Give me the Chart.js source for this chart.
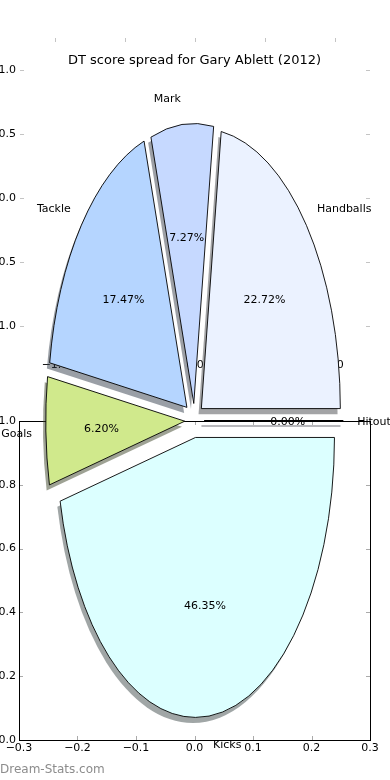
<!DOCTYPE html>
<html>
<head>
<meta charset="utf-8">
<title>DT score spread for Gary Ablett (2012)</title>
<style>
    body { margin: 0; background: #fff; }
    #wrap { position: relative; width: 390px; height: 780px; overflow: hidden; }
    #wrap canvas { position: absolute; left: 0; top: 0; }
    .brand { position: absolute; left: 0; top: 762px; font: 12px "DejaVu Sans", sans-serif; line-height: 14px; color: #8c8c8c; }
</style>
</head>
<body>
<div id="wrap">
    <canvas id="lowerAxes" width="390" height="780"></canvas>
    <canvas id="upperAxes" width="390" height="780"></canvas>
    <canvas id="pieChart" width="390" height="780"></canvas>
    <div class="brand">Dream-Stats.com</div>
</div>

<script src="https://cdn.jsdelivr.net/npm/chart.js"></script>
<script>
    // slices, clockwise from 3 o'clock (matplotlib draws them the other way round)
    var categories = ['Hitout', 'Kicks', 'Goals', 'Tackle', 'Mark', 'Handballs'];
    var scores = [0.00, 46.35, 6.20, 17.47, 7.27, 22.72];
    var sliceColors = ['#e4e4ff', '#dcffff', '#d0e98c', '#b5d5ff', '#c6d9ff', '#ebf2ff'];
    var explode = [0.07, 0.061, 0.07, 0.072, 0.061, 0.065];   // fraction of radius

    // the two stray axes behind the pie
    var lowerXTicks = [-0.3, -0.2, -0.1, 0, 0.1, 0.2, 0.3];
    var lowerXLabels = ['\u22120.3', '\u22120.2', '\u22120.1', '0.0', '0.1', '0.2', '0.3'];
    var lowerYTicks = [0, 0.2, 0.4, 0.6, 0.8, 1.0];
    var lowerYLabels = ['0.0', '0.2', '0.4', '0.6', '0.8', '1.0'];
    var upperTicks = [-1, -0.5, 0, 0.5, 1];
    var upperLabels = ['\u22121.0', '\u22120.5', '0.0', '0.5', '1.0'];

    var STRETCH = 2.014;   // the pie is an ellipse, taller than wide
    var tickFont = { family: 'DejaVu Sans', size: 11 };

    var innerTicks = {
        id: 'innerTicks',
        afterDraw: function (chart, args, opts) {
            var a = chart.chartArea, ctx = chart.ctx, sx = chart.scales.x, sy = chart.scales.y, len = 4;
            ctx.save();
            ctx.strokeStyle = opts.color;
            ctx.lineWidth = 1;
            ctx.beginPath();
            sx.ticks.forEach(function (t) {
                var p = Math.round(sx.getPixelForValue(t.value)) + 0.5;
                ctx.moveTo(p, a.top); ctx.lineTo(p, a.top + len);
                ctx.moveTo(p, a.bottom); ctx.lineTo(p, a.bottom - len);
            });
            sy.ticks.forEach(function (t) {
                var p = Math.round(sy.getPixelForValue(t.value)) + 0.5;
                ctx.moveTo(a.left, p); ctx.lineTo(a.left + len, p);
                ctx.moveTo(a.right, p); ctx.lineTo(a.right - len, p);
            });
            ctx.stroke();
            if (opts.frame) {
                ctx.strokeStyle = '#000';
                ctx.strokeRect(a.left + 0.5, a.top + 0.5, a.right - a.left, a.bottom - a.top);
            }
            ctx.restore();
        }
    };

    function makeAxes(id, xRange, xTicks, xLabels, yRange, yTicks, yLabels, box, tickColor, frame) {
        return new Chart(document.getElementById(id), {
            type: 'scatter',
            data: { datasets: [{ data: [] }] },
            options: {
                responsive: false,
                animation: false,
                events: [],
                layout: { padding: { left: 0, top: box.top, right: 390 - box.right, bottom: 0 } },
                scales: {
                    x: {
                        type: 'linear', min: xRange[0], max: xRange[1],
                        afterBuildTicks: function (s) { s.ticks = xTicks.map(function (v) { return { value: v }; }); },
                        afterFit: function (s) { s.height = 780 - box.bottom; },
                        grid: { display: false, drawTicks: false },
                        border: { display: false },
                        ticks: {
                            color: '#000', font: tickFont, padding: box.xPad, maxRotation: 0, autoSkip: false,
                            callback: function (v, i) { return xLabels[i]; }
                        }
                    },
                    y: {
                        type: 'linear', min: yRange[0], max: yRange[1],
                        afterBuildTicks: function (s) { s.ticks = yTicks.map(function (v) { return { value: v }; }); },
                        afterFit: function (s) { s.width = box.left; },
                        grid: { display: false, drawTicks: false },
                        border: { display: false },
                        ticks: {
                            color: '#000', font: tickFont, padding: box.yPad, autoSkip: false,
                            callback: function (v, i) { return yLabels[i]; }
                        }
                    }
                },
                plugins: {
                    legend: { display: false },
                    tooltip: { enabled: false },
                    innerTicks: { color: tickColor, frame: frame }
                }
            },
            plugins: [innerTicks]
        });
    }

    makeAxes('lowerAxes', [-0.3, 0.3], lowerXTicks, lowerXLabels, [0, 1], lowerYTicks, lowerYLabels,
        { left: 19, top: 421, right: 370, bottom: 740, xPad: 2, yPad: 3 }, '#aaa', true);
    makeAxes('upperAxes', [-1.25, 1.25], upperTicks, upperLabels, [-1.25, 1.25], upperTicks, upperLabels,
        { left: 20, top: 38, right: 370, bottom: 358, xPad: 1, yPad: 4 }, '#c4c4c4', false);

    function shade(hex) {
        var n = parseInt(hex.slice(1), 16);
        return 'rgba(' + Math.round((n >> 16 & 255) * 0.3) + ',' + Math.round((n >> 8 & 255) * 0.3) + ',' +
            Math.round((n & 255) * 0.3) + ',0.5)';
    }

    function wedgePath(ctx, arc, dx, dy) {
        ctx.beginPath();
        ctx.moveTo(arc.x + dx, arc.y + dy);
        ctx.arc(arc.x + dx, arc.y + dy, arc.outerRadius, arc.startAngle, arc.endAngle);
        ctx.closePath();
    }

    // exploded, stretched wedges with matplotlib style drop shadows
    var explodedPie = {
        id: 'explodedPie',
        beforeDatasetDraw: function (chart, args) {
            var ctx = chart.ctx, arcs = args.meta.data;
            var cx = arcs[0].x, cy = arcs[0].y, base = ctx.getTransform();
            ctx.save();
            ctx.translate(cx, cy); ctx.scale(1, STRETCH); ctx.translate(-cx, -cy);

            arcs.forEach(function (arc, i) {
                var m = (arc.startAngle + arc.endAngle) / 2, d = explode[i] * arc.outerRadius, s = 0.02 * arc.outerRadius;
                var col = shade(sliceColors[i]);
                wedgePath(ctx, arc, Math.cos(m) * d - s, Math.sin(m) * d + s);
                if (arc.circumference > 0) {
                    ctx.fillStyle = col;
                    ctx.fill();
                } else {
                    ctx.save(); ctx.setTransform(base);
                    ctx.strokeStyle = col; ctx.lineWidth = 1.5; ctx.stroke();
                    ctx.restore();
                }
            });

            arcs.forEach(function (arc, i) {
                var m = (arc.startAngle + arc.endAngle) / 2, d = explode[i] * arc.outerRadius;
                ctx.save();
                ctx.translate(Math.cos(m) * d, Math.sin(m) * d);
                arc.draw(ctx);
                wedgePath(ctx, arc, 0, 0);
                ctx.setTransform(base);
                ctx.strokeStyle = '#000';
                ctx.lineWidth = 0.9;
                ctx.stroke();
                ctx.restore();
            });
            ctx.restore();
            return false;
        }
    };

    var pieLabels = {
        id: 'pieLabels',
        afterDatasetsDraw: function (chart) {
            var ctx = chart.ctx, arcs = chart.getDatasetMeta(0).data;
            var total = scores.reduce(function (a, b) { return a + b; }, 0);
            ctx.save();
            ctx.font = '11px "DejaVu Sans"';
            ctx.fillStyle = '#000';
            ctx.textBaseline = 'middle';
            arcs.forEach(function (arc, i) {
                var m = (arc.startAngle + arc.endAngle) / 2, r = arc.outerRadius;
                var c = Math.cos(m), s = Math.sin(m);
                var ax = arc.x + explode[i] * r * c, ay = arc.y + explode[i] * r * STRETCH * s + 2;
                ctx.textAlign = c > 0 ? 'left' : 'right';
                ctx.fillText(categories[i], ax + 1.1 * r * c, ay + 1.1 * r * STRETCH * s);
                ctx.textAlign = 'center';
                ctx.fillText((scores[i] / total * 100).toFixed(2) + '%', ax + 0.6 * r * c, ay + 0.6 * r * STRETCH * s);
            });
            ctx.restore();
        }
    };

    new Chart(document.getElementById('pieChart'), {
        type: 'pie',
        data: {
            labels: categories,
            datasets: [{ data: scores, backgroundColor: sliceColors, borderWidth: 0 }]
        },
        options: {
            responsive: false,
            animation: false,
            events: [],
            rotation: 90,
            radius: 139,
            layout: { padding: { left: 0, right: 1, top: 0, bottom: 7.8 } },
            plugins: {
                legend: { display: false },
                tooltip: { enabled: false },
                title: {
                    display: true,
                    text: 'DT score spread for Gary Ablett (2012)',
                    color: '#000',
                    font: { family: 'DejaVu Sans', size: 13, weight: 'normal' },
                    padding: { top: 53.2, bottom: 0 }
                }
            }
        },
        plugins: [explodedPie, pieLabels]
    });
</script>
</body>
</html>
